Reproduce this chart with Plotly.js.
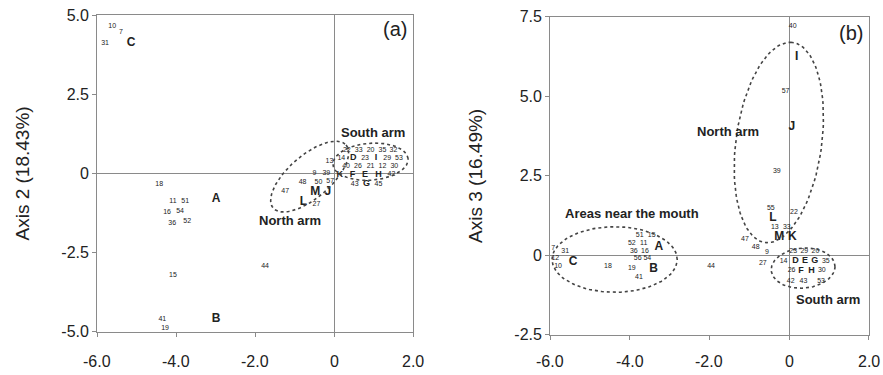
<!DOCTYPE html>
<html>
<head>
<meta charset="utf-8">
<script src="https://cdn.plot.ly/plotly-3.0.1.min.js"></script>
<style>html,body{margin:0;padding:0;background:#fff;}#chart{width:883px;height:375px;}</style>
</head>
<body>
<div id="chart"></div>
<script>
// ---------- Panel (a): Axis 1 vs Axis 2 ----------
const sitesA_label = ['10','7','31','18','11','51','16','54','36','52','15','44','41','19',
  '47','48','50','57','27','9','39','13',
  '22','33','20','35','32','14','23','29','53','40','26','21','12','30','42','43','45'];
const sitesA_x = [-5.62,-5.40,-5.80,-4.43,-4.08,-3.77,-4.23,-3.90,-4.10,-3.72,-4.08,-1.75,-4.35,-4.28,
  -1.24,-0.80,-0.40,-0.10,-0.45,-0.50,-0.20,-0.12,
  0.32,0.62,0.92,1.22,1.50,0.18,0.78,1.34,1.64,0.30,0.60,0.92,1.22,1.52,1.45,0.52,1.12];
const sitesA_y = [4.65,4.46,4.10,-0.33,-0.87,-0.87,-1.21,-1.18,-1.56,-1.50,-3.20,-2.92,-4.60,-4.88,
  -0.55,-0.28,-0.28,-0.25,-0.96,-0.00,-0.00,0.39,
  0.74,0.74,0.74,0.74,0.74,0.48,0.48,0.48,0.48,0.22,0.22,0.22,0.22,0.22,-0.04,-0.34,-0.34];
const groupsA_label = ['C','A','B','M','J','L','K','D','I','F','E','H','G'];
const groupsA_x = [-5.14,-2.99,-2.99,-0.48,-0.16,-0.78,0.14,0.48,1.06,0.46,0.78,1.12,0.82];
const groupsA_y = [4.12,-0.80,-4.60,-0.60,-0.60,-0.90,-0.04,0.48,0.48,-0.04,-0.04,-0.04,-0.34];
const bigA = ['C','A','B','M','J','L'];

// ---------- Panel (b): Axis 1 vs Axis 3 ----------
const sitesB_label = ['31','12','10','7','18','51','15','52','11','36','16','56','54','19','41','44',
  '40','57','39','55','22','13','33','47','48','9','27',
  '23','29','20','14','35','26','30','42','43','53'];
const sitesB_x = [-5.62,-5.87,-5.80,-5.92,-4.55,-3.75,-3.45,-3.95,-3.65,-3.90,-3.62,-3.80,-3.56,-3.95,-3.77,-1.96,
  0.09,-0.09,-0.31,-0.46,0.12,-0.36,-0.06,-1.11,-0.84,-0.56,-0.66,
  0.10,0.38,0.66,-0.14,0.92,0.06,0.82,0.04,0.36,0.80];
const sitesB_y = [0.14,-0.08,-0.33,0.22,-0.33,0.62,0.62,0.38,0.38,0.14,0.14,-0.10,-0.08,-0.40,-0.70,-0.33,
  7.19,5.17,2.63,1.49,1.37,0.87,0.87,0.52,0.24,0.11,-0.24,
  0.12,0.12,0.12,-0.18,-0.18,-0.48,-0.48,-0.80,-0.80,-0.80];
const groupsB_label = ['C','A','B','I','J','L','M','K','D','E','G','F','H'];
const groupsB_x = [-5.42,-3.27,-3.40,0.19,0.07,-0.41,-0.25,0.08,0.16,0.40,0.64,0.30,0.56];
const groupsB_y = [-0.20,0.26,-0.44,6.24,4.04,1.18,0.58,0.58,-0.18,-0.18,-0.18,-0.48,-0.48];
const bigB = ['C','A','B','I','J','L','M','K'];

// tick labels
const xTickVals = [-6,-4,-2,0,2];
const xTickText = ['-6.0','-4.0','-2.0','0','2.0'];
const yTickValsA = [5,2.5,0,-2.5,-5];
const yTickTextA = ['5.0','2.5','0','-2.5','-5.0'];
const yTickValsB = [7.5,5,2.5,0,-2.5];
const yTickTextB = ['7.5','5.0','2.5','0','-2.5'];

// group envelopes (dotted ellipses): centre and two conjugate semi-diameters in data units
const envelopes = [
  {ax:'a', c:[-0.62,-0.10], u:[0.92,1.00], v:[0.36,-0.50]},
  {ax:'a', c:[0.92,0.37],  u:[0.95,0.10], v:[-0.05,0.58]},
  {ax:'b', c:[-0.26,3.55], u:[0.30,3.15], v:[1.08,-0.05]},
  {ax:'b', c:[-4.38,-0.13], u:[1.57,0.0], v:[0.0,1.03]},
  {ax:'b', c:[0.35,-0.40], u:[0.80,0.05], v:[0.0,0.63]}
];

const FONT = 'Arial, "Liberation Sans", sans-serif';
const INK = '#222222';
const traces = [];

function txt(x, y, t, xa, ya, size, bold){
  return {x:x, y:y, text:t, mode:'text', type:'scatter', xaxis:xa, yaxis:ya,
    textposition:'middle center', hoverinfo:'skip', showlegend:false,
    textfont:{family:FONT, size:size, color:INK, weight: bold ? 'bold' : 'normal'}};
}
function split(lbl, xs, ys, bigSet){
  const big = {x:[],y:[],t:[]}, small = {x:[],y:[],t:[]};
  lbl.forEach((l,i) => { const o = bigSet.includes(l) ? big : small; o.x.push(xs[i]); o.y.push(ys[i]); o.t.push(l); });
  return [big, small];
}
traces.push(txt(sitesA_x, sitesA_y, sitesA_label, 'x', 'y', 7, false));
const [gaBig, gaSmall] = split(groupsA_label, groupsA_x, groupsA_y, bigA);
traces.push(txt(gaBig.x, gaBig.y, gaBig.t, 'x', 'y', 12, true));
traces.push(txt(gaSmall.x, gaSmall.y, gaSmall.t, 'x', 'y', 9, true));
traces.push(txt(sitesB_x, sitesB_y, sitesB_label, 'x2', 'y2', 7, false));
const [gbBig, gbSmall] = split(groupsB_label, groupsB_x, groupsB_y, bigB);
traces.push(txt(gbBig.x, gbBig.y, gbBig.t, 'x2', 'y2', 12, true));
traces.push(txt(gbSmall.x, gbSmall.y, gbSmall.t, 'x2', 'y2', 9, true));

envelopes.forEach(e => {
  const xs = [], ys = [];
  for (let i = 0; i <= 120; i++) {
    const t = 2*Math.PI*i/120;
    xs.push(e.c[0] + e.u[0]*Math.cos(t) + e.v[0]*Math.sin(t));
    ys.push(e.c[1] + e.u[1]*Math.cos(t) + e.v[1]*Math.sin(t));
  }
  traces.push({x:xs, y:ys, mode:'lines', type:'scatter',
    xaxis: e.ax==='a' ? 'x' : 'x2', yaxis: e.ax==='a' ? 'y' : 'y2',
    line:{color:'#444', width:1.6, dash:'dot'}, hoverinfo:'skip', showlegend:false});
});

const axisBase = {
  showgrid:false, zeroline:true, zerolinecolor:'#8a8a8a', zerolinewidth:1,
  showline:true, linecolor:'#8a8a8a', linewidth:1, mirror:true,
  ticks:'outside', ticklen:4, tickcolor:'#8a8a8a',
  tickfont:{family:FONT, size:16, color:INK}, automargin:false, fixedrange:true
};

// x tick labels placed a little further below the axes, at the tick values
const annotations = [];
[['x',0.036],['x2',0.036]].forEach(([xr, yp]) => {
  xTickVals.forEach((v,i) => annotations.push({xref:xr, yref:'paper', x:v, y:yp, yanchor:'middle',
    text:xTickText[i], showarrow:false, font:{family:FONT, size:16, color:INK}}));
});
annotations.push(
  {xref:'x', yref:'y', x:0.98, y:1.28, text:'<b>South arm</b>', showarrow:false, font:{family:FONT, size:13, color:INK}},
  {xref:'x', yref:'y', x:-1.11, y:-1.50, text:'<b>North arm</b>', showarrow:false, font:{family:FONT, size:13, color:INK}},
  {xref:'x', yref:'y', x:1.55, y:4.55, text:'(a)', showarrow:false, font:{family:FONT, size:20, color:INK}},
  {xref:'x2', yref:'y2', x:-1.54, y:3.90, text:'<b>North arm</b>', showarrow:false, font:{family:FONT, size:13, color:INK}},
  {xref:'x2', yref:'y2', x:-3.95, y:1.33, text:'<b>Areas near the mouth</b>', showarrow:false, font:{family:FONT, size:13, color:INK}},
  {xref:'x2', yref:'y2', x:0.97, y:-1.38, text:'<b>South arm</b>', showarrow:false, font:{family:FONT, size:13, color:INK}},
  {xref:'x2', yref:'y2', x:1.55, y:7.0, text:'(b)', showarrow:false, font:{family:FONT, size:20, color:INK}}
);

const layout = {
  width:883, height:375,
  margin:{l:0, r:0, t:0, b:0},
  paper_bgcolor:'#fff', plot_bgcolor:'#fff',
  showlegend:false,
  xaxis: Object.assign({}, axisBase, {domain:[0.110,0.468], range:[-6,2], tickvals:xTickVals, showticklabels:false, anchor:'y'}),
  yaxis: Object.assign({}, axisBase, {domain:[0.115,0.960], range:[-5,5], tickvals:yTickValsA, ticktext:yTickTextA, anchor:'x',
    title:{text:'Axis 2 (18.43%)', font:{family:FONT, size:19, color:INK}, standoff:26}}),
  xaxis2: Object.assign({}, axisBase, {domain:[0.623,0.984], range:[-6,2], tickvals:xTickVals, showticklabels:false, anchor:'y2'}),
  yaxis2: Object.assign({}, axisBase, {domain:[0.107,0.955], range:[-2.5,7.5], tickvals:yTickValsB, ticktext:yTickTextB, anchor:'x2',
    title:{text:'Axis 3 (16.49%)', font:{family:FONT, size:19, color:INK}, standoff:26}}),
  annotations: annotations
};

Plotly.newPlot('chart', traces, layout, {staticPlot:true, displayModeBar:false});
</script>
</body>
</html>
